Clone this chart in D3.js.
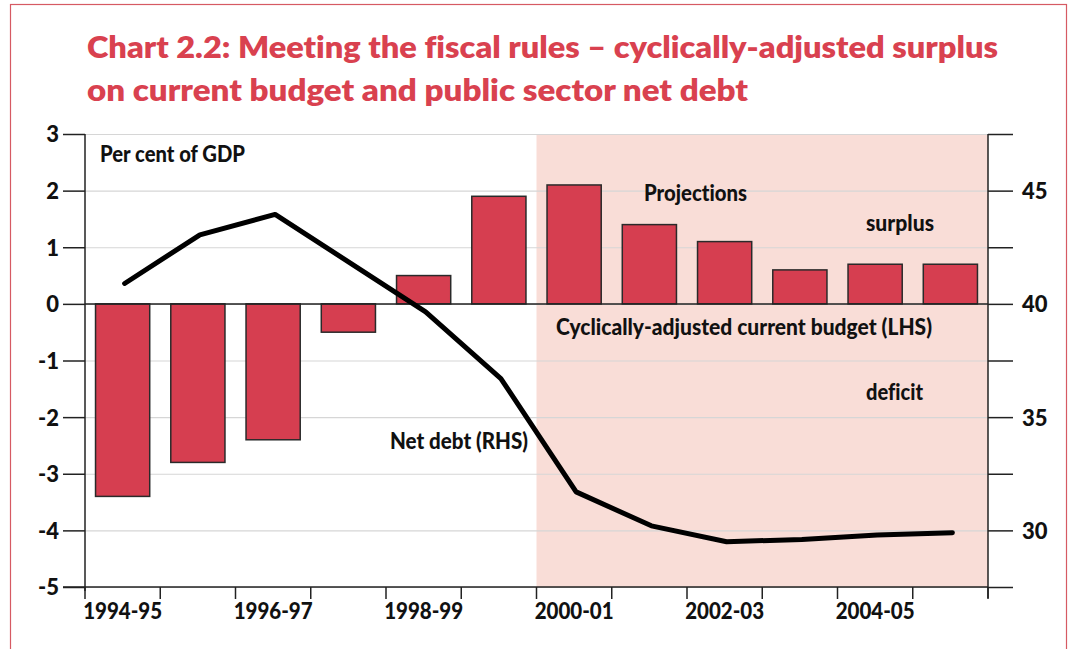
<!DOCTYPE html>
<html>
<head>
<meta charset="utf-8">
<script src="https://cdn.jsdelivr.net/npm/d3@7"></script>
<style>
  body { margin: 0; background: #fff; }
  svg { display: block; font-family: Lato, "Open Sans", sans-serif; font-variant-ligatures: none; }
  .tick text { font-family: Lato, "Open Sans", sans-serif; font-weight: 900; fill: #111; }
</style>
</head>
<body>
<svg id="chart" width="1068" height="649"></svg>
<script>
// chart data
var years = ["1994-95", "1995-96", "1996-97", "1997-98", "1998-99", "1999-00",
             "2000-01", "2001-02", "2002-03", "2003-04", "2004-05", "2005-06"];
var budgetBalance = [-3.4, -2.8, -2.4, -0.5, 0.5, 1.9, 2.1, 1.4, 1.1, 0.6, 0.7, 0.7];
var netDebt = [40.9, 43.05, 43.95, 41.8, 39.65, 36.7, 31.7, 30.2, 29.5, 29.6, 29.8, 29.9];
var yearLabels = ["1994-95", "1996-97", "1998-99", "2000-01", "2002-03", "2004-05"];
var leftTicks = [-5, -4, -3, -2, -1, 0, 1, 2, 3];
var rightTicks = [27.5, 30, 32.5, 35, 37.5, 40, 42.5, 45, 47.5];
var firstProjection = "2000-01";

var red = "#d63e50";
var titleRed = "#d9414f";
var shade = "#f9ddd7";

var svg = d3.select("#chart");
var plotLeft = 85, plotRight = 988, plotTop = 134, plotBottom = 587;

var x = d3.scaleBand().domain(years).range([plotLeft, plotRight])
    .paddingInner(0.28).paddingOuter(0.14);
var y = d3.scaleLinear().domain([-5, 3]).range([plotBottom, plotTop]);
var y2 = d3.scaleLinear().domain([27.5, 47.5]).range([plotBottom, plotTop]);
var gap = x.step() * x.paddingInner() / 2;

// outer frame
svg.append("rect").attr("x", 10.5).attr("y", 4.5).attr("width", 1056).attr("height", 660)
    .attr("fill", "none").attr("stroke", "#d65a63").attr("stroke-width", 1.2);

// title
var title = svg.append("text").attr("fill", titleRed).attr("font-weight", 800)
    .attr("font-size", 31);
title.append("tspan").attr("x", 87).attr("y", 58).attr("textLength", 911)
    .attr("lengthAdjust", "spacingAndGlyphs")
    .text("Chart 2.2: Meeting the fiscal rules \u2013 cyclically-adjusted surplus");
title.append("tspan").attr("x", 87).attr("y", 101).attr("textLength", 661)
    .attr("lengthAdjust", "spacingAndGlyphs")
    .text("on current budget and public sector net debt");

// projection shading
var shadeX = x(firstProjection) - gap;
svg.append("rect").attr("x", shadeX).attr("y", plotTop)
    .attr("width", plotRight - shadeX).attr("height", plotBottom - plotTop).attr("fill", shade);

// gridlines
svg.append("g").selectAll("line").data(leftTicks).enter().append("line")
    .attr("x1", plotLeft).attr("x2", plotRight)
    .attr("y1", function (d) { return y(d) + 0.5; })
    .attr("y2", function (d) { return y(d) + 0.5; })
    .attr("stroke", "#d6d6d6").attr("stroke-width", 1.2);

// bars
svg.append("g").selectAll("rect").data(years).enter().append("rect")
    .attr("x", function (d) { return x(d); })
    .attr("width", x.bandwidth())
    .attr("y", function (d, i) { return y(Math.max(0, budgetBalance[i])); })
    .attr("height", function (d, i) { return Math.abs(y(budgetBalance[i]) - y(0)); })
    .attr("fill", red).attr("stroke", "#2a2a2a").attr("stroke-width", 1.5);

// zero line
svg.append("line").attr("x1", plotLeft).attr("x2", plotRight)
    .attr("y1", y(0)).attr("y2", y(0)).attr("stroke", "#222").attr("stroke-width", 1.5);

// left axis
var yAxis = svg.append("g").attr("transform", "translate(" + plotLeft + ",0)")
    .call(d3.axisLeft(y).tickValues(leftTicks).tickSize(22).tickSizeOuter(0)
        .tickFormat(function (d) { return String(d); }));
yAxis.select(".domain").attr("stroke", "#222").attr("stroke-width", 1.5)
    .attr("d", "M0," + plotTop + "V" + (plotBottom + 4));
yAxis.selectAll(".tick line").attr("stroke", "#222").attr("stroke-width", 1.5);
yAxis.selectAll(".tick text").attr("font-size", 22).attr("x", -26).attr("dy", "0.36em");

// right axis
var y2Axis = svg.append("g").attr("transform", "translate(" + plotRight + ",0)")
    .call(d3.axisRight(y2).tickValues(rightTicks).tickSize(25).tickSizeOuter(0)
        .tickFormat(function (d) { return d % 5 === 0 ? String(d) : ""; }));
y2Axis.select(".domain").attr("stroke", "#222").attr("stroke-width", 1.5)
    .attr("d", "M0," + plotTop + "V" + (plotBottom + 11));
y2Axis.selectAll(".tick line").attr("stroke", "#222").attr("stroke-width", 1.5);
y2Axis.selectAll(".tick text").attr("font-size", 22).attr("x", 34).attr("dy", "0.36em");

// bottom axis: ticks at every band edge, labels every other year
var edges = years.map(function (d) { return x(d) - gap; }).concat([plotRight]);
var xAxis = svg.append("g").attr("transform", "translate(0," + plotBottom + ")");
xAxis.append("line").attr("x1", plotLeft - 22).attr("x2", plotRight).attr("y1", 0).attr("y2", 0)
    .attr("stroke", "#222").attr("stroke-width", 1.5);
xAxis.selectAll("line.edge").data(edges).enter().append("line").attr("class", "edge")
    .attr("x1", function (d) { return d; }).attr("x2", function (d) { return d; })
    .attr("y1", 0).attr("y2", 12).attr("stroke", "#222").attr("stroke-width", 1.5);
xAxis.call(d3.axisBottom(x).tickValues(yearLabels).tickSize(0).tickPadding(16))
    .select(".domain").remove();
xAxis.selectAll(".tick text").attr("font-size", 23).attr("dy", "0.71em")
    .attr("textLength", 79).attr("lengthAdjust", "spacingAndGlyphs");

// net debt line (right hand scale)
var line = d3.line()
    .x(function (d, i) { return x(years[i]) + x.bandwidth() / 2 + 2; })
    .y(function (d) { return y2(d); });
svg.append("path").datum(netDebt).attr("d", line)
    .attr("fill", "none").attr("stroke", "#000").attr("stroke-width", 5)
    .attr("stroke-linecap", "round").attr("stroke-linejoin", "round");

// annotations
var notes = [
  { t: "Per cent of GDP", x: 100, y: 162, w: 145 },
  { t: "Projections", x: 644, y: 201, w: 103 },
  { t: "surplus", x: 866, y: 231, w: 68 },
  { t: "Cyclically-adjusted current budget (LHS)", x: 556, y: 335, w: 376 },
  { t: "deficit", x: 866, y: 400, w: 57 },
  { t: "Net debt (RHS)", x: 390, y: 449, w: 138 }
];
svg.append("g").selectAll("text").data(notes).enter().append("text")
    .attr("x", function (d) { return d.x; }).attr("y", function (d) { return d.y; })
    .attr("textLength", function (d) { return d.w; })
    .attr("lengthAdjust", "spacingAndGlyphs")
    .attr("font-size", 22).attr("font-weight", 900).attr("fill", "#111")
    .text(function (d) { return d.t; });
</script>
</body>
</html>
